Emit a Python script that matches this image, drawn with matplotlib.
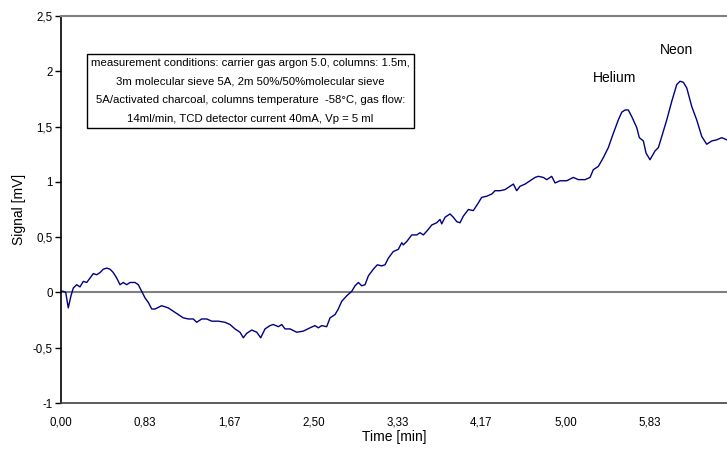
import matplotlib
matplotlib.use('Agg')
import matplotlib.pyplot as plt

plt.rcParams['font.family'] = ['Liberation Sans', 'DejaVu Sans']

# chromatogram trace: time [min] and detector signal [mV]
time_min = [
    0.000, 0.023, 0.047, 0.072, 0.099, 0.122, 0.156, 0.188, 0.221, 0.255,
    0.287, 0.320, 0.354, 0.387, 0.419, 0.453, 0.486, 0.518, 0.552, 0.585,
    0.617, 0.651, 0.684, 0.733, 0.766, 0.800, 0.833, 0.865, 0.899, 0.932,
    0.998, 1.063, 1.113, 1.163, 1.212, 1.262, 1.311, 1.345, 1.394, 1.444,
    1.494, 1.559, 1.625, 1.675, 1.724, 1.774, 1.807, 1.840, 1.890, 1.940,
    1.979, 2.022, 2.071, 2.104, 2.154, 2.187, 2.220, 2.270, 2.336, 2.401,
    2.468, 2.517, 2.550, 2.584, 2.633, 2.666, 2.716, 2.748, 2.782, 2.832,
    2.881, 2.914, 2.947, 2.980, 3.013, 3.046, 3.095, 3.135, 3.178, 3.211,
    3.244, 3.293, 3.343, 3.377, 3.392, 3.426, 3.476, 3.525, 3.558, 3.591,
    3.640, 3.674, 3.723, 3.756, 3.773, 3.806, 3.855, 3.888, 3.922, 3.954,
    3.987, 4.037, 4.086, 4.136, 4.169, 4.219, 4.269, 4.301, 4.351, 4.400,
    4.433, 4.483, 4.516, 4.549, 4.599, 4.648, 4.698, 4.730, 4.780, 4.814,
    4.863, 4.896, 4.945, 5.012, 5.077, 5.127, 5.193, 5.243, 5.275, 5.325,
    5.375, 5.424, 5.474, 5.523, 5.557, 5.590, 5.622, 5.656, 5.706, 5.731,
    5.771, 5.798, 5.837, 5.887, 5.920, 5.953, 6.003, 6.053, 6.102, 6.135,
    6.168, 6.201, 6.251, 6.300, 6.350, 6.399, 6.449, 6.498, 6.548, 6.598,
    6.640,
]
signal_mv = [
    0.01, 0.01, 0.00, -0.14, -0.03, 0.04, 0.07, 0.05, 0.10, 0.09,
    0.13, 0.17, 0.16, 0.18, 0.21, 0.22, 0.21, 0.18, 0.13, 0.07,
    0.09, 0.07, 0.09, 0.09, 0.07, 0.01, -0.05, -0.09, -0.15, -0.15,
    -0.12, -0.14, -0.17, -0.20, -0.23, -0.24, -0.24, -0.27, -0.24, -0.24,
    -0.26, -0.26, -0.27, -0.29, -0.33, -0.36, -0.41, -0.37, -0.34, -0.36,
    -0.41, -0.33, -0.30, -0.29, -0.31, -0.29, -0.33, -0.33, -0.36, -0.35,
    -0.32, -0.30, -0.32, -0.30, -0.31, -0.23, -0.20, -0.15, -0.08, -0.03,
    0.01, 0.06, 0.09, 0.06, 0.07, 0.15, 0.21, 0.25, 0.24, 0.25,
    0.31, 0.37, 0.39, 0.45, 0.43, 0.46, 0.52, 0.52, 0.54, 0.52,
    0.57, 0.61, 0.63, 0.66, 0.62, 0.68, 0.71, 0.68, 0.64, 0.63,
    0.69, 0.75, 0.74, 0.81, 0.86, 0.87, 0.89, 0.92, 0.92, 0.93,
    0.95, 0.98, 0.92, 0.96, 0.98, 1.01, 1.04, 1.05, 1.04, 1.02,
    1.05, 0.99, 1.01, 1.01, 1.04, 1.02, 1.02, 1.04, 1.11, 1.14,
    1.22, 1.31, 1.44, 1.56, 1.63, 1.65, 1.65, 1.59, 1.49, 1.40,
    1.37, 1.26, 1.20, 1.28, 1.31, 1.41, 1.56, 1.73, 1.88, 1.91,
    1.90, 1.85, 1.68, 1.56, 1.41, 1.34, 1.37, 1.38, 1.40, 1.38,
    1.39,
]

x_ticks = [0.0, 5 / 6, 10 / 6, 15 / 6, 20 / 6, 25 / 6, 30 / 6, 35 / 6]
x_labels = ['0,00', '0,83', '1,67', '2,50', '3,33', '4,17', '5,00', '5,83']
y_ticks = [-1, -0.5, 0, 0.5, 1, 1.5, 2, 2.5]
y_labels = ['-1', '-0,5', '0', '0,5', '1', '1,5', '2', '2,5']

conditions = ("measurement conditions: carrier gas argon 5.0, columns: 1.5m,\n"
              "3m molecular sieve 5A, 2m 50%/50%molecular sieve\n"
              "5A/activated charcoal, columns temperature  -58°C, gas flow:\n"
              "14ml/min, TCD detector current 40mA, Vp = 5 ml")

fig = plt.figure(figsize=(7.27, 4.5), dpi=100)
ax = fig.add_axes([61 / 727, 1 - 403 / 450, 1 - 61 / 727, 387 / 450])

ax.axhline(0, color='#808080', linewidth=1.5, zorder=1)
ax.plot(time_min, signal_mv, color='#000080', linewidth=1.0, zorder=2)

ax.set_xlim(0, 6.60)
ax.set_ylim(-1, 2.5)
ax.set_xticks(x_ticks)
ax.set_xticklabels(x_labels)
ax.set_yticks(y_ticks)
ax.set_yticklabels(y_labels)
ax.tick_params(axis='x', length=0, pad=10, labelsize=8.3)
ax.tick_params(axis='y', length=4, width=1, pad=2, labelsize=8.3)

ax.spines['right'].set_visible(False)
ax.spines['top'].set_color('#808080')
ax.spines['top'].set_linewidth(1.5)
ax.spines['left'].set_color('black')
ax.spines['left'].set_linewidth(1.2)
ax.spines['bottom'].set_color('#404040')
ax.spines['bottom'].set_linewidth(1.2)

ax.set_xlabel('Time [min]', fontsize=10, labelpad=1)
ax.set_ylabel('Signal [mV]', fontsize=10, labelpad=5)

ax.text(5.49, 1.94, 'Helium', fontsize=10, ha='center', va='center')
ax.text(6.095, 2.19, 'Neon', fontsize=10, ha='center', va='center')

fig.text(250.5 / 727, 1 - 91 / 450, conditions, fontsize=8.2,
         ha='center', va='center', multialignment='center', linespacing=2.05,
         bbox=dict(boxstyle='square,pad=0.38', facecolor='white',
                   edgecolor='black', linewidth=1.0))

fig.savefig('out.png', dpi=100)
